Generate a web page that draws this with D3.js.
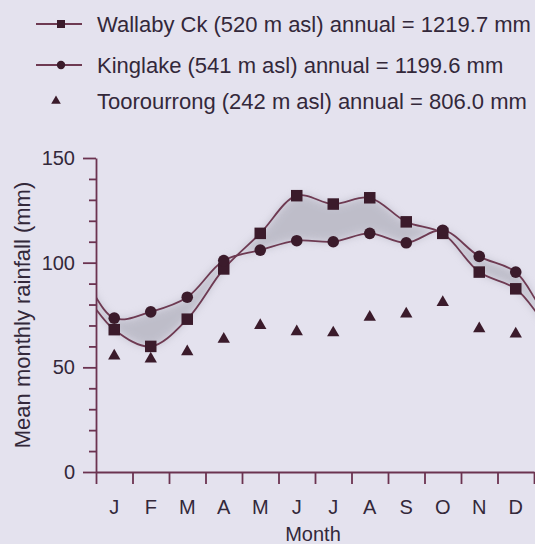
<!DOCTYPE html>
<html>
<head>
<meta charset="utf-8">
<script src="https://cdn.jsdelivr.net/npm/d3@7"></script>
<style>
  html, body { margin: 0; padding: 0; background: #e4e2ee; }
  svg { display: block; font-family: "Liberation Sans", Arial, Helvetica, sans-serif; }
</style>
</head>
<body>
<svg id="chart" width="535" height="544"></svg>
<script>
// values (mm)
const months = ['J', 'F', 'M', 'A', 'M', 'J', 'J', 'A', 'S', 'O', 'N', 'D'];
const wallaby = [68, 60, 73, 97, 114, 132, 128, 131, 119.5, 114, 95.5, 87.5];
const kinglake = [73.5, 76.5, 83.5, 101, 106, 110.5, 110, 114, 109.5, 115.5, 103, 95.5];
const toorourrong = [55.5, 54, 57.5, 63.5, 70, 67, 66.5, 74, 75.5, 81, 68.5, 66];
const yTicks = [0, 50, 100, 150];
const legendLabels = [
    'Wallaby Ck (520 m asl) annual = 1219.7 mm',
    'Kinglake (541 m asl) annual = 1199.6 mm',
    'Toorourrong (242 m asl) annual = 806.0 mm',
];

const lineColor = '#6e3a52';
const markColor = '#3b1b2b';
const axisColor = '#6b3350';
const textColor = '#33283a';

const svg = d3.select('#chart');

const x = d3.scaleLinear().domain([0, 12]).range([96, 534]);
const xb = d3.scaleBand().domain(d3.range(12)).range([96, 534]);
const y = d3.scaleLinear().domain([0, 150]).range([472, 158]);

// wrap the year round so the curves run out to both edges
function wrapped(vals) {
    const pts = vals.map((v, i) => ({ i: i, v: v }));
    return [{ i: -2, v: vals[10] }, { i: -1, v: vals[11] }]
        .concat(pts, [{ i: 12, v: vals[0] }, { i: 13, v: vals[1] }]);
}

svg.append('defs').append('clipPath').attr('id', 'plot')
    .append('rect').attr('x', 96).attr('y', 100).attr('width', 440).attr('height', 372);
const blur = svg.select('defs').append('filter').attr('id', 'soft')
    .attr('x', '-10%').attr('y', '-30%').attr('width', '120%').attr('height', '160%');
blur.append('feGaussianBlur').attr('stdDeviation', 4);

const g = svg.append('g').attr('clip-path', 'url(#plot)');

const both = wrapped(wallaby).map((d, k) => ({ i: d.i, a: d.v, b: wrapped(kinglake)[k].v }));

const area = d3.area()
    .x((d) => x(d.i + 0.5))
    .y0((d) => y(d.a))
    .y1((d) => y(d.b))
    .curve(d3.curveCatmullRom);

g.append('path')
    .datum(both)
    .attr('d', area)
    .attr('fill', '#a6a6b2')
    .attr('opacity', 0.6)
    .attr('filter', 'url(#soft)');

const line = d3.line()
    .x((d) => x(d.i + 0.5))
    .y((d) => y(d.v))
    .curve(d3.curveCatmullRom);

[wallaby, kinglake].forEach((vals) => {
    g.append('path')
        .datum(wrapped(vals))
        .attr('d', line)
        .attr('fill', 'none')
        .attr('stroke', lineColor)
        .attr('stroke-width', 1.8);
});

// axes
svg.append('g')
    .attr('transform', 'translate(96,0)')
    .call(d3.axisLeft(y).tickValues(yTicks).tickSize(13).tickSizeOuter(0).tickPadding(8));
svg.append('g')
    .attr('transform', 'translate(96,0)')
    .call(d3.axisLeft(y).tickValues(d3.range(0, 151, 10).filter((v) => v % 50)).tickSize(7).tickFormat(''))
    .call((a) => a.select('.domain').remove());

svg.append('g')
    .attr('transform', 'translate(0,472)')
    .call(d3.axisBottom(x).tickValues(d3.range(13)).tickSize(12).tickSizeOuter(0).tickFormat(''));

svg.append('g')
    .attr('transform', 'translate(0,472)')
    .call(d3.axisBottom(xb).tickSize(0).tickPadding(28).tickFormat((i) => months[i]))
    .call((a) => a.select('.domain').remove());

svg.selectAll('.domain, .tick line')
    .attr('stroke', axisColor)
    .attr('stroke-width', 1.8);
svg.selectAll('.tick text')
    .attr('fill', textColor)
    .attr('font-size', 20)
    .attr('font-family', '"Liberation Sans", Arial, sans-serif');

// markers
const sq = 11.5;
svg.append('g').selectAll('rect')
    .data(wallaby)
    .enter()
    .append('rect')
    .attr('x', (d, i) => xb(i) + xb.bandwidth() / 2 - sq / 2)
    .attr('y', (d) => y(d) - sq / 2)
    .attr('width', sq)
    .attr('height', sq)
    .attr('fill', markColor);

svg.append('g').selectAll('circle')
    .data(kinglake)
    .enter()
    .append('circle')
    .attr('cx', (d, i) => xb(i) + xb.bandwidth() / 2)
    .attr('cy', (d) => y(d))
    .attr('r', 5.8)
    .attr('fill', markColor);

const tri = d3.symbol().type(d3.symbolTriangle).size(66);
svg.append('g').selectAll('path')
    .data(toorourrong)
    .enter()
    .append('path')
    .attr('d', tri)
    .attr('transform', (d, i) => `translate(${xb(i) + xb.bandwidth() / 2},${y(d)})`)
    .attr('fill', markColor);

// axis titles
svg.append('text')
    .attr('transform', 'translate(30,315) rotate(-90)')
    .attr('text-anchor', 'middle')
    .attr('font-size', 22)
    .attr('fill', textColor)
    .text('Mean monthly rainfall (mm)');

svg.append('text')
    .attr('x', 313)
    .attr('y', 541)
    .attr('text-anchor', 'middle')
    .attr('font-size', 20)
    .attr('fill', textColor)
    .text('Month');

// legend
const legendY = [24, 65, 101];
const lg = svg.append('g');
legendLabels.forEach((label, k) => {
    const cy = legendY[k];
    if (k < 2) {
        lg.append('line')
            .attr('x1', 36).attr('x2', 82)
            .attr('y1', cy).attr('y2', cy)
            .attr('stroke', lineColor)
            .attr('stroke-width', 1.8);
    }
    if (k === 0) {
        lg.append('rect').attr('x', 57).attr('y', cy - 4).attr('width', 8).attr('height', 8).attr('fill', markColor);
    } else if (k === 1) {
        lg.append('circle').attr('cx', 61).attr('cy', cy).attr('r', 4.2).attr('fill', markColor);
    } else {
        lg.append('path').attr('d', d3.symbol().type(d3.symbolTriangle).size(40))
            .attr('transform', `translate(56,${cy})`).attr('fill', markColor);
    }
    lg.append('text')
        .attr('x', 97)
        .attr('y', cy + 7.5)
        .attr('font-size', 22)
        .attr('fill', textColor)
        .text(label);
});
</script>
</body>
</html>
